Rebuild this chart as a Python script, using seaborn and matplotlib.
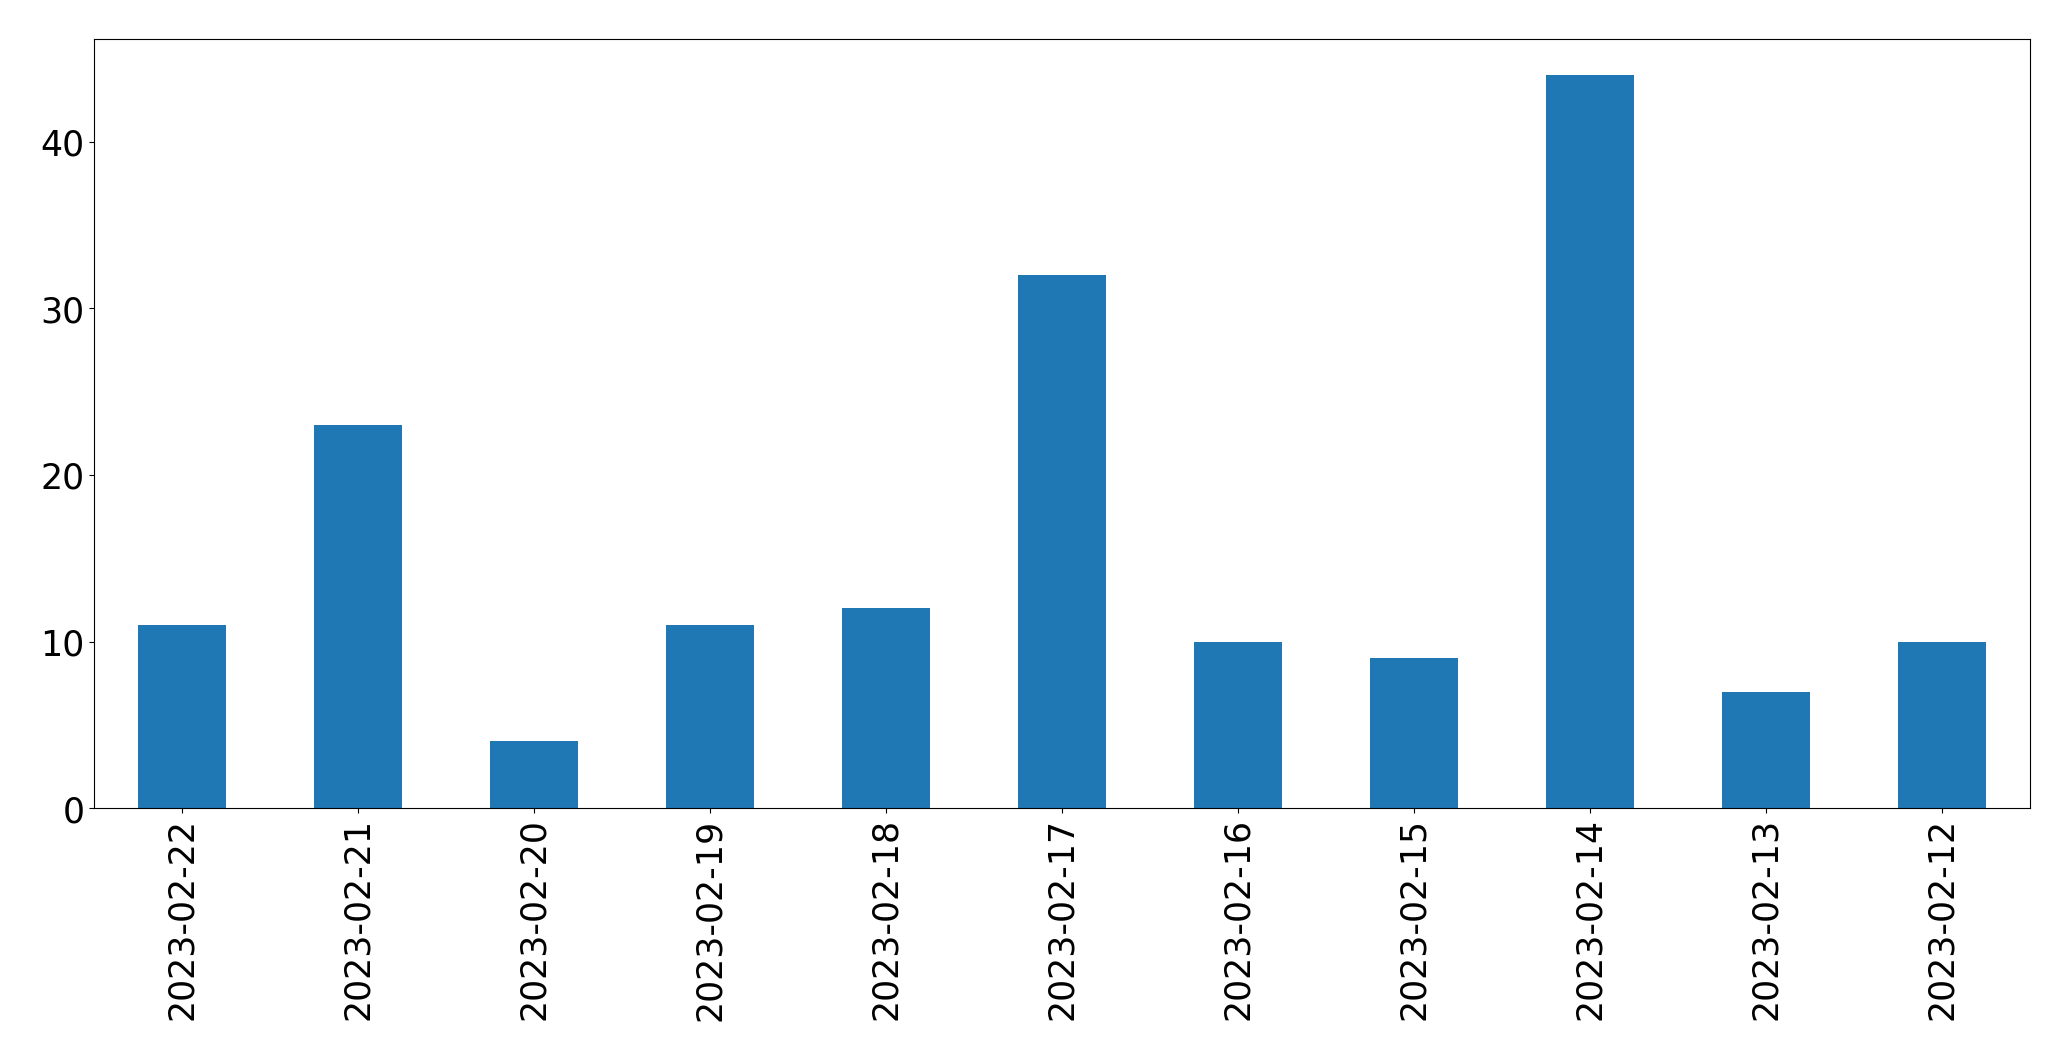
import matplotlib
matplotlib.use("Agg")
import matplotlib.pyplot as plt
import seaborn as sns
import pandas as pd

dates = ["2023-02-22", "2023-02-21", "2023-02-20", "2023-02-19", "2023-02-18", "2023-02-17",
         "2023-02-16", "2023-02-15", "2023-02-14", "2023-02-13", "2023-02-12"]
counts = [11, 23, 4, 11, 12, 32, 10, 9, 44, 7, 10]

df = pd.DataFrame({"date": dates, "count": counts})

fig, ax = plt.subplots(figsize=(20.71, 10.605), dpi=100)
fig.subplots_adjust(left=0.0456, right=0.9804, bottom=0.2375, top=0.9632)

sns.barplot(data=df, x="date", y="count", order=dates, color="#1f77b4",
            saturation=1, width=0.5, linewidth=0, ax=ax)

ax.set_xlim(-0.5, len(dates) - 0.5)
ax.set_ylim(0, max(counts) * 1.05)
ax.set_xlabel("")
ax.set_ylabel("")
ax.tick_params(axis="both", labelsize=25)
ax.tick_params(axis="x", labelrotation=90)

fig.savefig("out.png", dpi=100)
